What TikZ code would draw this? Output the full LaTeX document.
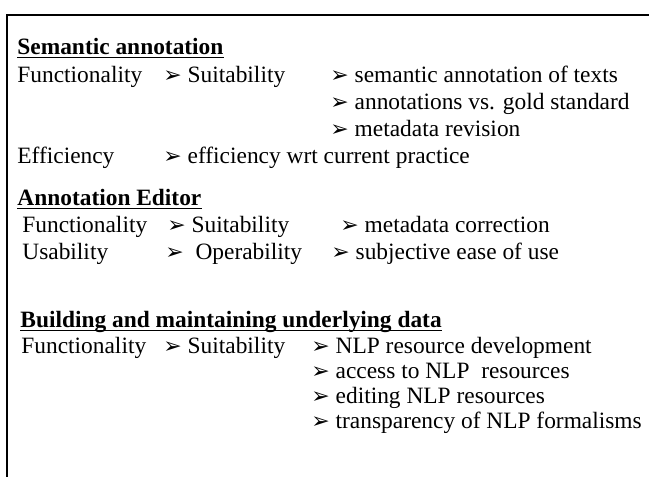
\documentclass[tikz,border=0pt]{standalone}
\usepackage{fontspec}
\setmainfont{Liberation Serif}
\newfontfamily\dingfont{DejaVu Sans}
\newcommand{\pointer}{{\dingfont\fontsize{11}{11}\selectfont ➢}}

\begin{document}
\begin{tikzpicture}[x=0.5pt,y=-0.5pt]
    \tikzstyle{entry} = [anchor=base west,inner sep=0pt,font=\fontsize{11.7}{14}\selectfont]
    \tikzstyle{heading} = [entry,font=\fontsize{11.7}{14}\selectfont\bfseries]
    \tikzstyle{rule} = [line width=0.8pt]
    \useasboundingbox (0,0) rectangle (649,477);
    \draw [line width=1pt] (649,15) -- (7,15) -- (7,477);
    % semantic annotation
    \node (semhead)[heading] at (17,54) {Semantic annotation};
    \draw [rule] ([yshift=-1.8pt]semhead.base west) -- ([yshift=-1.8pt]semhead.base east);
    \node (semfunc)[entry] at (17,82) {Functionality};
    \node (semsuit)[entry] at (163,82) {\pointer\ Suitability};
    \node (semtexts)[entry] at (330,82) {\pointer\ semantic annotation of texts};
    \node (semgold)[entry] at (330,109) {\pointer\ annotations vs. gold standard};
    \node (semmeta)[entry] at (330,136) {\pointer\ metadata revision};
    \node (semeff)[entry] at (17,163) {Efficiency};
    \node (sempractice)[entry] at (163,163) {\pointer\ efficiency wrt current practice};
    % annotation editor
    \node (edhead)[heading] at (17,205) {Annotation Editor};
    \draw [rule] ([yshift=-1.8pt]edhead.base west) -- ([yshift=-1.8pt]edhead.base east);
    \node (edfunc)[entry] at (22,232) {Functionality};
    \node (edsuit)[entry] at (167,232) {\pointer\ Suitability};
    \node (edcorr)[entry] at (340,232) {\pointer\ metadata correction};
    \node (edusab)[entry] at (22,259) {Usability};
    \node (edoper)[entry] at (165,259) {\pointer\ \ Operability};
    \node (edease)[entry] at (331,259) {\pointer\ subjective ease of use};
    % underlying data
    \node (datahead)[heading] at (20,327) {Building and maintaining underlying data};
    \draw [rule] ([yshift=-1.8pt]datahead.base west) -- ([yshift=-1.8pt]datahead.base east);
    \node (datafunc)[entry] at (21,353) {Functionality};
    \node (datasuit)[entry] at (163,353) {\pointer\ Suitability};
    \node (datadev)[entry] at (311,353) {\pointer\ NLP resource development};
    \node (dataaccess)[entry] at (311,378) {\pointer\ access to NLP\ \ resources};
    \node (dataedit)[entry] at (311,403) {\pointer\ editing NLP resources};
    \node (dataformal)[entry] at (311,428) {\pointer\ transparency of NLP formalisms};
\end{tikzpicture}
\end{document}
